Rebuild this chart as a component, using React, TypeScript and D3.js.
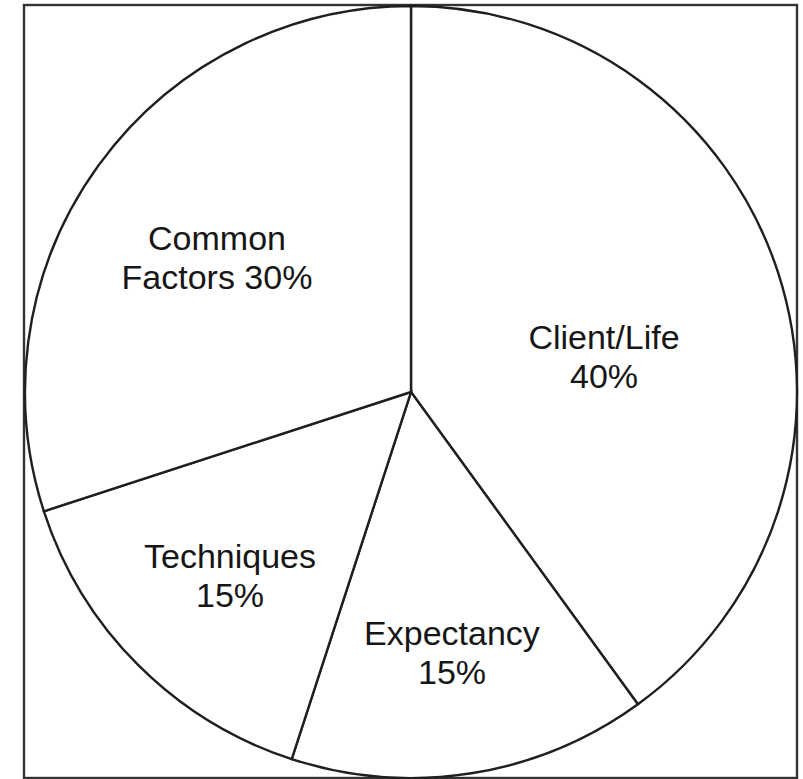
import React from "react";
import * as d3 from "d3";

const categories = ["Client/Life", "Expectancy", "Techniques", "Common Factors"];
const values = [40, 15, 15, 30];
const labelLines = [
  ["Client/Life", "40%"],
  ["Expectancy", "15%"],
  ["Techniques", "15%"],
  ["Common", "Factors 30%"],
];

const W = 803;
const H = 779;
const cx = 411;
const cy = 392;
const R = 386;
// label anchor positions (layout only), first-line baseline
const labelPos: [number, number][] = [
  [604, 349],
  [452, 645],
  [230, 568],
  [217, 250],
];

export default function App() {
  const pie = d3.pie<number>().sort(null).value((d) => d);
  const arcs = pie(values);
  const arc = d3.arc<d3.PieArcDatum<number>>().innerRadius(0).outerRadius(R);
  const stroke = "#1f1f1f";
  return (
    <svg
      width={W}
      height={H}
      style={{ position: "absolute", left: 0, top: 0, background: "#fff" }}
    >
      <rect x={24} y={5} width={773} height={773} fill="#fff" stroke="#333" strokeWidth={2.4} />
      <g transform={`translate(${cx},${cy})`}>
        {arcs.map((a, i) => (
          <path
            key={categories[i]}
            d={arc(a) || ""}
            fill="#fff"
            stroke={stroke}
            strokeWidth={2.4}
            strokeLinejoin="miter"
          />
        ))}
      </g>
      {labelLines.map((lines, i) => (
        <text
          key={i}
          x={labelPos[i][0]}
          y={labelPos[i][1]}
          textAnchor="middle"
          fontFamily="'Liberation Sans', Arial, Helvetica, sans-serif"
          fontSize={34}
          fill="#161616"
        >
          {lines.map((l, j) => (
            <tspan key={j} x={labelPos[i][0]} dy={j === 0 ? 0 : 39}>
              {l}
            </tspan>
          ))}
        </text>
      ))}
    </svg>
  );
}
